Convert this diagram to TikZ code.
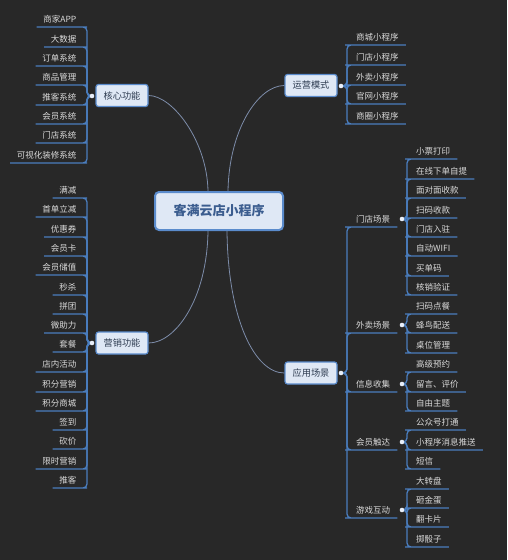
\documentclass[tikz,border=0pt]{standalone}
\usepackage{fontspec}
\setmainfont{Noto Sans CJK SC}
\definecolor{bgc}{HTML}{282828}
\definecolor{txt}{HTML}{DADADA}
\definecolor{ublue}{HTML}{4A7DBE}
\definecolor{conncol}{HTML}{7D8DAA}
\definecolor{tfill}{HTML}{DFE8F5}
\definecolor{tborder}{HTML}{5A8BCC}
\definecolor{ttext}{HTML}{2D3B50}
\definecolor{rtext}{HTML}{3B5D8F}
\definecolor{dotc}{HTML}{E8EEF8}
\tikzset{
  leafL/.style={anchor=south east, inner xsep=6.5pt, inner ysep=4pt, text=txt, font=\fontsize{8.5}{10}\selectfont},
  leafR/.style={anchor=south west, inner xsep=7pt, inner ysep=4pt, text=txt, font=\fontsize{8.5}{10}\selectfont},
  topic/.style={draw=tborder, fill=tfill, rounded corners=2.5pt, line width=1.2pt, minimum width=52pt, minimum height=22pt, inner sep=0pt, text=ttext, font=\fontsize{9.2}{11}\selectfont},
  rootbox/.style={draw=tborder, fill=tfill, rounded corners=4pt, line width=2pt, minimum width=128pt, minimum height=38pt, inner sep=0pt, text=rtext, font=\fontsize{13}{15}\selectfont\bfseries},
  dotn/.style={circle, fill=dotc, inner sep=0pt, minimum size=4.6pt},
  branch/.style={draw=ublue, line width=1.3pt, rounded corners=4pt},
  conn/.style={draw=conncol, line width=0.8pt},
}
\begin{document}
\begin{tikzpicture}[x=1pt,y=-1pt]
\fill[bgc] (0,0) rectangle (507,560);
\useasboundingbox (0,0) rectangle (507,560);

% root and topics
\node[rootbox] (root) at (219,211) {客满云店小程序};
\node[topic] (core) at (122,95.5) {核心功能};
\node[topic] (ops) at (311,85.5) {运营模式};
\node[topic] (mkt) at (122,343) {营销功能};
\node[topic] (app) at (311,373) {应用场景};

% curved connectors
\draw[conn] (core.east) .. controls (172,95.5) and (207,140) .. ([xshift=-11pt]root.north);
\draw[conn] (ops.west) .. controls (258,85.5) and (229,130) .. ([xshift=9pt]root.north);
\draw[conn] ([xshift=-11pt]root.south) .. controls (207,300) and (175,343) .. (mkt.east);
\draw[conn] ([xshift=8pt]root.south) .. controls (228,320) and (255,373) .. (app.west);

% dot coordinates
\coordinate (dcore) at (92,96);
\coordinate (dops) at (341,86);
\coordinate (dmkt) at (92,343);
\coordinate (dapp) at (341,373);

% core children
\foreach \t/\y [count=\i] in {商家APP/27,大数据/47,订单系统/66,商品管理/85,推客系统/105,会员系统/124,门店系统/143,可视化装修系统/163}{
  \node[leafL] (c\i) at (83,\y) {\t};
  \draw[branch] (dcore) -- (87,96) |- (c\i.south east) -- (c\i.south west);
}
% ops children
\foreach \t/\y [count=\i] in {商城小程序/45,门店小程序/65,外卖小程序/85,官网小程序/104,商圈小程序/124}{
  \node[leafR] (o\i) at (349,\y) {\t};
  \draw[branch] (dops) -- (347,86) |- (o\i.south west) -- (o\i.south east);
}
% marketing children
\foreach \t/\y [count=\i] in {满减/198,首单立减/217,优惠券/237,会员卡/256,会员储值/275,秒杀/295,拼团/314,微助力/333,套餐/352,店内活动/372,积分营销/392,积分商城/411,签到/430,砍价/449,限时营销/469,推客/488}{
  \node[leafL] (m\i) at (83,\y) {\t};
  \draw[branch] (dmkt) -- (87,343) |- (m\i.south east) -- (m\i.south west);
}
% application scenario level 2
\foreach \t/\y/\n in {门店场景/227/sa,外卖场景/333/sb,信息收集/392/sc,会员触达/450/sd,游戏互动/518/se}{
  \node[leafR] (\n) at (349,\y) {\t};
  \draw[branch] (dapp) -- (347,373) |- (\n.south west) -- (\n.south east);
  \coordinate (d\n) at (402,\y-8);
}
% level 3
\foreach \t/\y [count=\i] in {小票打印/159,在线下单自提/179,面对面收款/198,扫码收款/218,门店入驻/237,自动WIFI/256,买单码/276,核销验证/295}{
  \node[leafR] (sa\i) at (409,\y) {\t};
  \draw[branch] (dsa) -- (407,219) |- (sa\i.south west) -- (sa\i.south east);
}
\foreach \t/\y [count=\i] in {扫码点餐/314,蜂鸟配送/333,桌位管理/353}{
  \node[leafR] (sb\i) at (409,\y) {\t};
  \draw[branch] (dsb) -- (407,325) |- (sb\i.south west) -- (sb\i.south east);
}
\foreach \t/\y [count=\i] in {高级预约/372,留言、评价/392,自由主题/411}{
  \node[leafR] (sc\i) at (409,\y) {\t};
  \draw[branch] (dsc) -- (407,384) |- (sc\i.south west) -- (sc\i.south east);
}
\foreach \t/\y [count=\i] in {公众号打通/430,小程序消息推送/450,短信/469}{
  \node[leafR] (sd\i) at (409,\y) {\t};
  \draw[branch] (dsd) -- (407,442) |- (sd\i.south west) -- (sd\i.south east);
}
\foreach \t/\y [count=\i] in {大转盘/489,砸金蛋/508,翻卡片/527,掷骰子/547}{
  \node[leafR] (se\i) at (409,\y) {\t};
  \draw[branch] (dse) -- (407,510) |- (se\i.south west) -- (se\i.south east);
}

% dots
\foreach \d in {dcore,dops,dmkt,dapp,dsa,dsb,dsc,dsd,dse}{
  \node[dotn] at (\d) {};
}
\end{tikzpicture}
\end{document}
